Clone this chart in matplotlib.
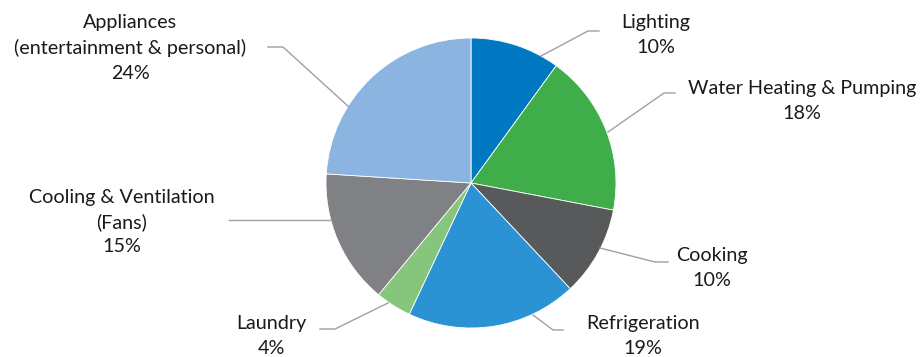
import matplotlib.pyplot as plt

# data
labels = ["Lighting", "Water Heating & Pumping", "Cooking", "Refrigeration",
          "Laundry", "Cooling & Ventilation\n(Fans)",
          "Appliances\n(entertainment & personal)"]
shares = [10, 18, 10, 19, 4, 15, 24]
colors = ["#0079c2", "#3fae4a", "#58595b", "#2b93d4", "#86c57c", "#808184", "#8bb5e0"]

# label text centres and leader lines (pixel coords, y from top)
text_pos = [(656, 35), (802, 101), (712, 268), (643, 336), (271, 336), (122, 222), (130, 48)]
start_pos = [(541, 56), (608, 132), (600, 248), (533, 315), (388, 303), (330, 220), (349, 107)]
bend_pos = [(588, 31), (664, 93), (655, 262), (553, 330), (335, 329), (330, 220), (283, 47)]
end_pos = [(599, 31), (675, 93), (668, 262), (563, 330), (320, 329), (229, 220), (268, 47)]

W, H = 922, 357
plt.rcParams['font.family'] = ['Lato', 'DejaVu Sans']

fig = plt.figure(figsize=(W / 100, H / 100), dpi=100)
ax = fig.add_axes([0, 0, 1, 1])

cx, cy, r = 471, H - 183, 145
wedges, _ = ax.pie(shares, colors=colors, startangle=90, counterclock=False,
                   center=(cx, cy), radius=r, frame=True,
                   wedgeprops=dict(edgecolor='white', linewidth=0.6))
ax.set_xlim(0, W)
ax.set_ylim(0, H)
ax.set_aspect('equal')
ax.axis('off')

for lab, val, tp, sp, bp, ep in zip(labels, shares, text_pos, start_pos, bend_pos, end_pos):
    ax.plot([sp[0], bp[0], ep[0]], [H - sp[1], H - bp[1], H - ep[1]], color='#a0a0a0', lw=1)
    ax.text(tp[0], H - tp[1], f"{lab}\n{val}%", ha='center', va='center',
            fontsize=14.2, color='#1a1a1a', linespacing=1.52)

fig.savefig("out.png", dpi=100)
